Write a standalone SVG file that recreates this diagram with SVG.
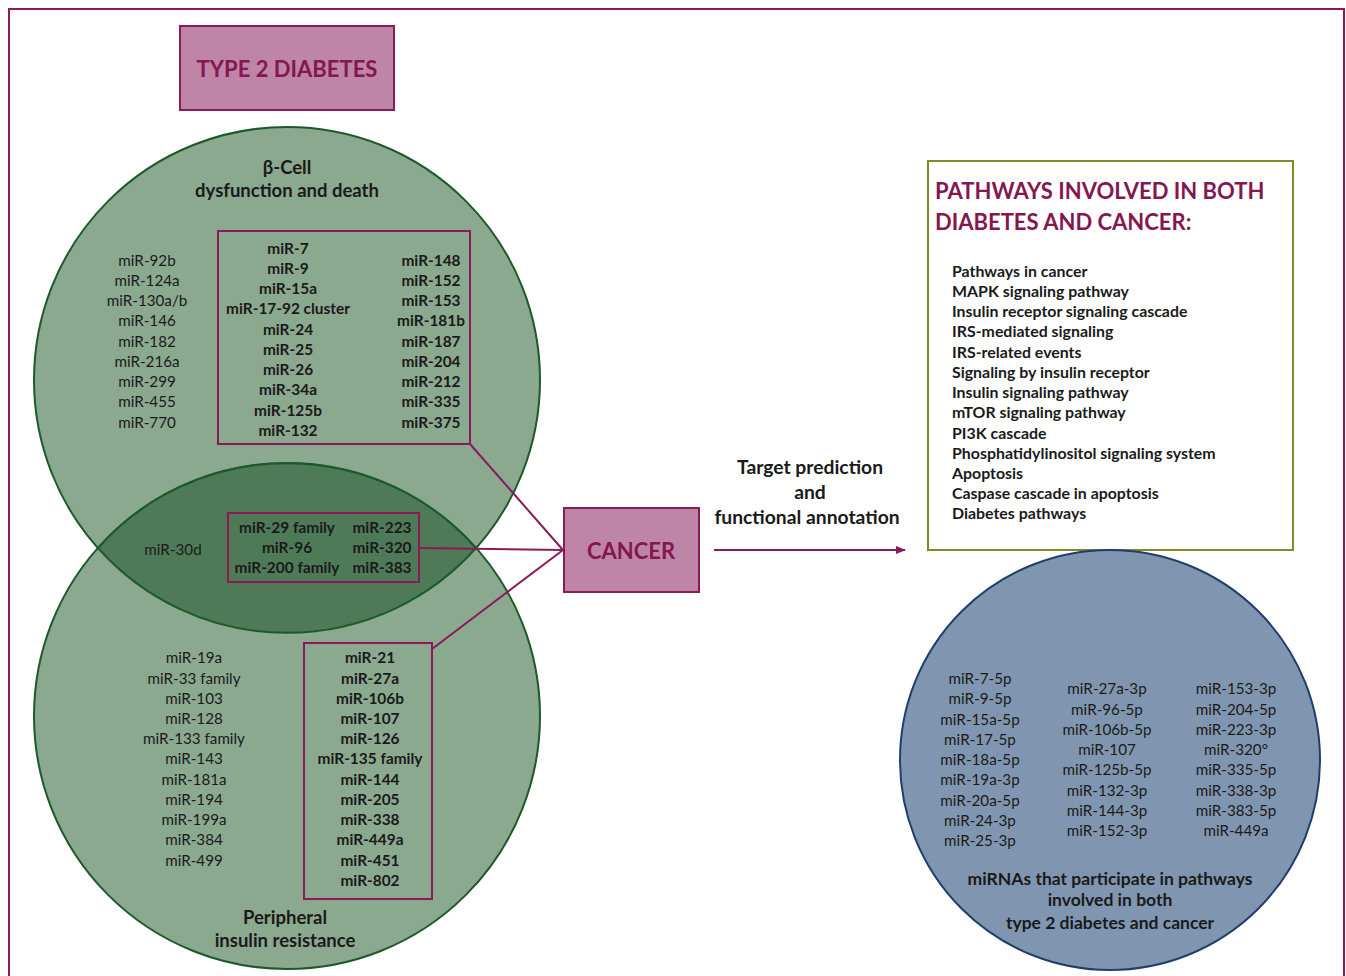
<svg xmlns="http://www.w3.org/2000/svg" width="1346" height="976" viewBox="0 0 1346 976">
<defs>
<style>
text{font-family:Lato,"Open Sans","Liberation Sans",sans-serif;fill:#1a1a1a;text-anchor:middle}
.r{font-size:15.2px}
.b{font-size:15.4px;font-weight:bold}
.h{font-size:18.5px;font-weight:bold}
.a{font-size:19.3px;font-weight:bold}
.m{font-size:17.5px;font-weight:bold}
.t{font-size:22px;font-weight:bold;fill:#84174f}
.pl{font-size:15.9px;font-weight:bold;text-anchor:start}
.circ{fill:#8aa98f;stroke:#1d5a2a;stroke-width:2}
.box{fill:none;stroke:#8b1a5a;stroke-width:2}
.pink{fill:#bf85a6;stroke:#8b1a5a;stroke-width:2}
.con{fill:none;stroke:#8b1a5a;stroke-width:2}
</style>
<marker id="ah" markerWidth="10" markerHeight="10" refX="9" refY="5" orient="auto" markerUnits="userSpaceOnUse">
<path d="M0,1 L10,5 L0,9 Z" fill="#8b1a5a"/>
</marker>
</defs>
<rect x="0" y="0" width="1346" height="976" fill="#fff"/>
<path d="M9,976 L9,9 L1344,9 L1344,976" fill="none" stroke="#8b1a5a" stroke-width="2"/>

<g id="t2d">
<rect class="pink" x="180" y="26" width="214" height="84"/>
<text class="t" x="287" y="77">TYPE 2 DIABETES</text>
</g>

<g id="venn">
<circle class="circ" cx="287" cy="380" r="253"/>
<circle class="circ" cx="287" cy="716" r="253"/>
<path d="M98,548 A253,253 0 0 1 476,548 A253,253 0 0 1 98,548 Z" fill="#4f7a57" stroke="#1d5a2a" stroke-width="2"/>
</g>

<g id="beta-cell">
<text class="h" x="287" y="174">β-Cell</text>
<text class="h" x="287" y="197">dysfunction and death</text>
<text class="r" x="147" y="266">miR-92b</text>
<text class="r" x="147" y="286">miR-124a</text>
<text class="r" x="147" y="306">miR-130a/b</text>
<text class="r" x="147" y="326">miR-146</text>
<text class="r" x="147" y="347">miR-182</text>
<text class="r" x="147" y="367">miR-216a</text>
<text class="r" x="147" y="387">miR-299</text>
<text class="r" x="147" y="407">miR-455</text>
<text class="r" x="147" y="428">miR-770</text>
<rect class="box" x="218" y="231" width="252" height="213"/>
<text class="b" x="288" y="254">miR-7</text>
<text class="b" x="288" y="274">miR-9</text>
<text class="b" x="288" y="294">miR-15a</text>
<text class="b" x="288" y="314">miR-17-92 cluster</text>
<text class="b" x="288" y="335">miR-24</text>
<text class="b" x="288" y="355">miR-25</text>
<text class="b" x="288" y="375">miR-26</text>
<text class="b" x="288" y="395">miR-34a</text>
<text class="b" x="288" y="416">miR-125b</text>
<text class="b" x="288" y="436">miR-132</text>
<text class="b" x="431" y="266">miR-148</text>
<text class="b" x="431" y="286">miR-152</text>
<text class="b" x="431" y="306">miR-153</text>
<text class="b" x="431" y="326">miR-181b</text>
<text class="b" x="431" y="347">miR-187</text>
<text class="b" x="431" y="367">miR-204</text>
<text class="b" x="431" y="387">miR-212</text>
<text class="b" x="431" y="407">miR-335</text>
<text class="b" x="431" y="428">miR-375</text>
</g>

<g id="overlap">
<text class="r" x="173" y="555">miR-30d</text>
<rect class="box" x="228" y="513" width="191" height="69"/>
<text class="b" x="287" y="533">miR-29 family</text>
<text class="b" x="287" y="553">miR-96</text>
<text class="b" x="287" y="573">miR-200 family</text>
<text class="b" x="382" y="533">miR-223</text>
<text class="b" x="382" y="553">miR-320</text>
<text class="b" x="382" y="573">miR-383</text>
</g>

<g id="peripheral">
<text class="r" x="194" y="663">miR-19a</text>
<text class="r" x="194" y="684">miR-33 family</text>
<text class="r" x="194" y="704">miR-103</text>
<text class="r" x="194" y="724">miR-128</text>
<text class="r" x="194" y="744">miR-133 family</text>
<text class="r" x="194" y="764">miR-143</text>
<text class="r" x="194" y="785">miR-181a</text>
<text class="r" x="194" y="805">miR-194</text>
<text class="r" x="194" y="825">miR-199a</text>
<text class="r" x="194" y="845">miR-384</text>
<text class="r" x="194" y="866">miR-499</text>
<rect class="box" x="304" y="643" width="128" height="256"/>
<text class="b" x="370" y="663">miR-21</text>
<text class="b" x="370" y="684">miR-27a</text>
<text class="b" x="370" y="704">miR-106b</text>
<text class="b" x="370" y="724">miR-107</text>
<text class="b" x="370" y="744">miR-126</text>
<text class="b" x="370" y="764">miR-135 family</text>
<text class="b" x="370" y="785">miR-144</text>
<text class="b" x="370" y="805">miR-205</text>
<text class="b" x="370" y="825">miR-338</text>
<text class="b" x="370" y="845">miR-449a</text>
<text class="b" x="370" y="866">miR-451</text>
<text class="b" x="370" y="886">miR-802</text>
<text class="h" x="285" y="924">Peripheral</text>
<text class="h" x="285" y="947">insulin resistance</text>
</g>

<g id="connectors">
<path class="con" d="M470,444 L563,550"/>
<path class="con" d="M419,548 L563,550"/>
<path class="con" d="M432,649 L563,550"/>
<path class="con" d="M714,550 L905,550" marker-end="url(#ah)"/>
</g>

<g id="cancer">
<rect class="pink" x="564" y="508" width="135" height="84"/>
<text class="t" x="631" y="559">CANCER</text>
</g>

<g id="annotation">
<text class="a" x="810" y="474">Target prediction</text>
<text class="a" x="810" y="499">and</text>
<text class="a" x="807" y="524">functional annotation</text>
</g>

<g id="pathways">
<rect x="928" y="161" width="365" height="389" fill="#fff" stroke="#7f8a2a" stroke-width="2"/>
<text class="t" x="935" y="199" style="text-anchor:start">PATHWAYS INVOLVED IN BOTH</text>
<text class="t" x="935" y="230" style="text-anchor:start">DIABETES AND CANCER:</text>
<text class="pl" x="952" y="277">Pathways in cancer</text>
<text class="pl" x="952" y="297">MAPK signaling pathway</text>
<text class="pl" x="952" y="317">Insulin receptor signaling cascade</text>
<text class="pl" x="952" y="337">IRS-mediated signaling</text>
<text class="pl" x="952" y="358">IRS-related events</text>
<text class="pl" x="952" y="378">Signaling by insulin receptor</text>
<text class="pl" x="952" y="398">Insulin signaling pathway</text>
<text class="pl" x="952" y="418">mTOR signaling pathway</text>
<text class="pl" x="952" y="439">PI3K cascade</text>
<text class="pl" x="952" y="459">Phosphatidylinositol signaling system</text>
<text class="pl" x="952" y="479">Apoptosis</text>
<text class="pl" x="952" y="499">Caspase cascade in apoptosis</text>
<text class="pl" x="952" y="519">Diabetes pathways</text>
</g>

<g id="mirnas">
<circle cx="1110" cy="760" r="210" fill="#8096b0" stroke="#1f3f6a" stroke-width="2"/>
<text class="r" x="980" y="684">miR-7-5p</text>
<text class="r" x="980" y="704">miR-9-5p</text>
<text class="r" x="980" y="725">miR-15a-5p</text>
<text class="r" x="980" y="745">miR-17-5p</text>
<text class="r" x="980" y="765">miR-18a-5p</text>
<text class="r" x="980" y="785">miR-19a-3p</text>
<text class="r" x="980" y="806">miR-20a-5p</text>
<text class="r" x="980" y="826">miR-24-3p</text>
<text class="r" x="980" y="846">miR-25-3p</text>
<text class="r" x="1107" y="694">miR-27a-3p</text>
<text class="r" x="1107" y="715">miR-96-5p</text>
<text class="r" x="1107" y="735">miR-106b-5p</text>
<text class="r" x="1107" y="755">miR-107</text>
<text class="r" x="1107" y="775">miR-125b-5p</text>
<text class="r" x="1107" y="796">miR-132-3p</text>
<text class="r" x="1107" y="816">miR-144-3p</text>
<text class="r" x="1107" y="836">miR-152-3p</text>
<text class="r" x="1236" y="694">miR-153-3p</text>
<text class="r" x="1236" y="715">miR-204-5p</text>
<text class="r" x="1236" y="735">miR-223-3p</text>
<text class="r" x="1236" y="755">miR-320°</text>
<text class="r" x="1236" y="775">miR-335-5p</text>
<text class="r" x="1236" y="796">miR-338-3p</text>
<text class="r" x="1236" y="816">miR-383-5p</text>
<text class="r" x="1236" y="836">miR-449a</text>
<text class="m" x="1110" y="885">miRNAs that participate in pathways</text>
<text class="m" x="1110" y="906">involved in both</text>
<text class="m" x="1110" y="929">type 2 diabetes and cancer</text>
</g>
</svg>
